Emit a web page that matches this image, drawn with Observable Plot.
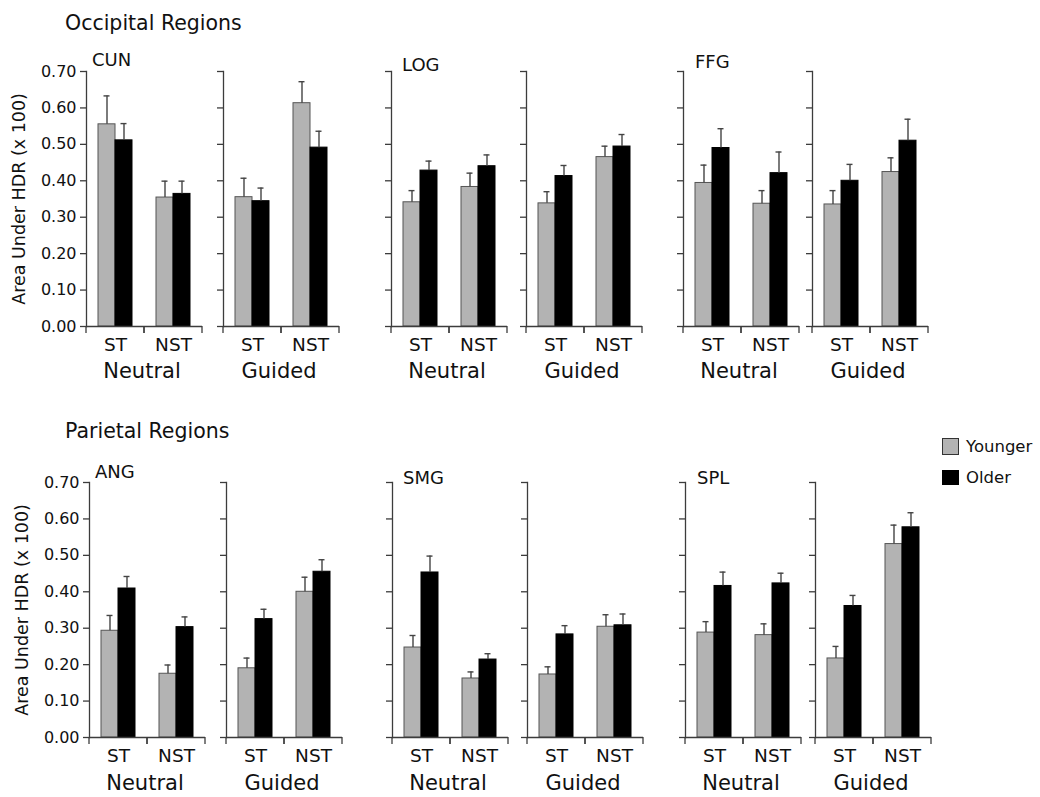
<!DOCTYPE html>
<html><head><meta charset="utf-8">
<script src="https://cdn.jsdelivr.net/npm/d3@7"></script>
<script src="https://cdn.jsdelivr.net/npm/@observablehq/plot@0.6"></script>
<style>
body{margin:0;background:#fff;}
#chart{position:relative;width:1040px;height:797px;font-family:"DejaVu Sans",sans-serif;color:#111;overflow:hidden;}
.abs{position:absolute;white-space:nowrap;line-height:1;}
#chart svg [aria-label^="fx-axis"] text{font-size:18.5px;}
#chart svg [aria-label="y-axis label"] text, #chart svg [aria-label="y-axis label"]{font-size:17.5px;}
</style></head><body><div id="chart"></div>
<script>
// ---- data ----
const lobeTitles = ["Occipital Regions", "Parietal Regions"];
const regions = ["CUN", "LOG", "FFG", "ANG", "SMG", "SPL"];
const conditions = ["Neutral", "Guided"];
const trialTypes = ["ST", "NST"];
const ageGroups = ["Younger", "Older"];
const yTicks = [0, 0.1, 0.2, 0.3, 0.4, 0.5, 0.6, 0.7];
const yLabel = "Area Under HDR (x 100)";
// order inside each region: Neutral ST, Neutral NST, Guided ST, Guided NST
const youngerMean = [
  [0.555, 0.354, 0.355, 0.613],
  [0.341, 0.383, 0.338, 0.465],
  [0.394, 0.337, 0.335, 0.424],
  [0.293, 0.175, 0.190, 0.400],
  [0.247, 0.162, 0.173, 0.304],
  [0.288, 0.281, 0.217, 0.531]
];
const youngerErr = [
  [0.078, 0.045, 0.052, 0.059],
  [0.032, 0.038, 0.032, 0.030],
  [0.049, 0.036, 0.038, 0.039],
  [0.042, 0.024, 0.028, 0.040],
  [0.033, 0.018, 0.021, 0.033],
  [0.030, 0.031, 0.033, 0.052]
];
const olderMean = [
  [0.511, 0.364, 0.344, 0.491],
  [0.428, 0.440, 0.413, 0.494],
  [0.490, 0.421, 0.400, 0.510],
  [0.409, 0.303, 0.325, 0.455],
  [0.453, 0.214, 0.283, 0.308],
  [0.416, 0.423, 0.361, 0.577]
];
const olderErr = [
  [0.046, 0.035, 0.036, 0.045],
  [0.026, 0.031, 0.029, 0.033],
  [0.053, 0.058, 0.045, 0.059],
  [0.033, 0.028, 0.027, 0.033],
  [0.045, 0.016, 0.024, 0.031],
  [0.038, 0.028, 0.029, 0.040]
];

// ---- table built from the arrays ----
const table = [];
regions.forEach((region, ri) => {
  conditions.forEach((condition, ci) => {
    trialTypes.forEach((trial, ti) => {
      const k = ci * 2 + ti;
      table.push({region, condition, trial, group: "Younger", mean: youngerMean[ri][k], hi: youngerMean[ri][k] + youngerErr[ri][k]});
      table.push({region, condition, trial, group: "Older", mean: olderMean[ri][k], hi: olderMean[ri][k] + olderErr[ri][k]});
    });
  });
});

// ---- layout / style ----
const GRAY = "#b3b3b3", AXIS = "#3c3c3c";
const rowAxisX = [[86, 223, 391, 526, 683, 812], [89, 226, 392, 527, 685, 815]];
const rowY70 = [70.5, 482];
const INNER_W = 116, INNER_H = 255, MT = 10, MB = 32, MR = 6;
const chart = document.getElementById("chart");

function addText(txt, left, top, size, extra) {
  const d = document.createElement("div");
  d.className = "abs";
  d.textContent = txt;
  d.style.left = left + "px";
  d.style.top = top + "px";
  d.style.fontSize = size + "px";
  if (extra) Object.assign(d.style, extra);
  chart.appendChild(d);
  return d;
}

// custom mark: small downward ticks at both ends of each facet's baseline
function edgeTicks(...args) {
  const dims = args.find(a => a && typeof a === "object" && "marginLeft" in a && "width" in a);
  const scales = args.find(a => a && typeof a.y === "function");
  const y0 = scales.y(0);
  const g = d3.create("svg:g").attr("stroke", AXIS).attr("stroke-width", 1.3);
  for (const x of [dims.marginLeft, dims.width - dims.marginRight]) {
    g.append("line").attr("x1", x).attr("x2", x).attr("y1", y0).attr("y2", y0 + 7);
  }
  return g.node();
}

lobeTitles.forEach((t, i) => addText(t, 65, i === 0 ? 12.5 : 420.5, 20.5));

const regionLabelTop = [53, 58, 55, 465, 471, 471];
const regionLabelDx = [6, 11, 12, 6, 11, 12];

regions.forEach((region, ri) => {
  const row = Math.floor(ri / 3), col = ri % 3;
  conditions.forEach((cond, ci) => {
    const p = col * 2 + ci;
    const first = p === 0;
    const ML = first ? 86 : 12;
    const rows = table.filter(d => d.region === region && d.condition === cond);
    const marks = [
      Plot.barY(rows, {fx: "trial", x: "group", y: "mean", fill: "group", stroke: d => d.group === "Younger" ? "#555" : "#000", strokeWidth: 1}),
      Plot.ruleX(rows, {fx: "trial", x: "group", y1: "mean", y2: "hi", stroke: "#444", strokeWidth: 1.4}),
      Plot.tickY(rows, {fx: "trial", x: "group", y: "hi", stroke: "#444", strokeWidth: 1.4, insetLeft: 5.5, insetRight: 5.5}),
      Plot.ruleY([0], {stroke: AXIS, strokeWidth: 1.3}),
      Plot.frame({anchor: "left", facetAnchor: "left", stroke: AXIS, strokeWidth: 1.3}),
      edgeTicks,
      Plot.axisFx({anchor: "bottom", tickSize: 0, tickPadding: 11, label: null}),
      Plot.axisY({
        ticks: yTicks, tickSize: 6, tickPadding: 4, stroke: AXIS, strokeWidth: 1.3,
        tickFormat: first ? d3.format(".2f") : () => "",
        label: first ? yLabel : null, labelAnchor: "center", labelOffset: 74, labelArrow: "none"
      })
    ];
    const svg = Plot.plot({
      width: ML + INNER_W + MR,
      height: MT + INNER_H + MB,
      marginLeft: ML, marginRight: MR, marginTop: MT, marginBottom: MB,
      style: {fontFamily: "DejaVu Sans", fontSize: "16px", color: "#111", background: "transparent", overflow: "visible"},
      fx: {domain: trialTypes, padding: 0, label: null},
      x: {domain: ageGroups, paddingInner: 0, paddingOuter: 0.69, axis: null},
      y: {domain: [0, 0.7], axis: null},
      color: {domain: ageGroups, range: [GRAY, "#000"]},
      marks
    });
    svg.style.position = "absolute";
    svg.style.left = (rowAxisX[row][p] - ML) + "px";
    svg.style.top = (rowY70[row] - MT) + "px";
    chart.appendChild(svg);

    // condition label under the panel
    addText(cond, rowAxisX[row][p] + INNER_W / 2 - 2, (row === 0 ? 360.5 : 772.5), 21, {transform: "translateX(-50%)"});
  });
  addText(region, rowAxisX[row][col * 2] + regionLabelDx[ri], regionLabelTop[ri] - 2, 18);
});

// legend
[["Younger", GRAY, "#333", 438, 439], ["Older", "#000", "#000", 470, 470]].forEach(([name, fill, stroke, by, ty]) => {
  const b = document.createElement("div");
  b.className = "abs";
  Object.assign(b.style, {left: "942px", top: by + "px", width: "15px", height: (name === "Younger" ? 15 : 13) + "px", background: fill, border: "1.5px solid " + stroke});
  chart.appendChild(b);
  addText(name, 966, ty, 16.5);
});
</script></body></html>
